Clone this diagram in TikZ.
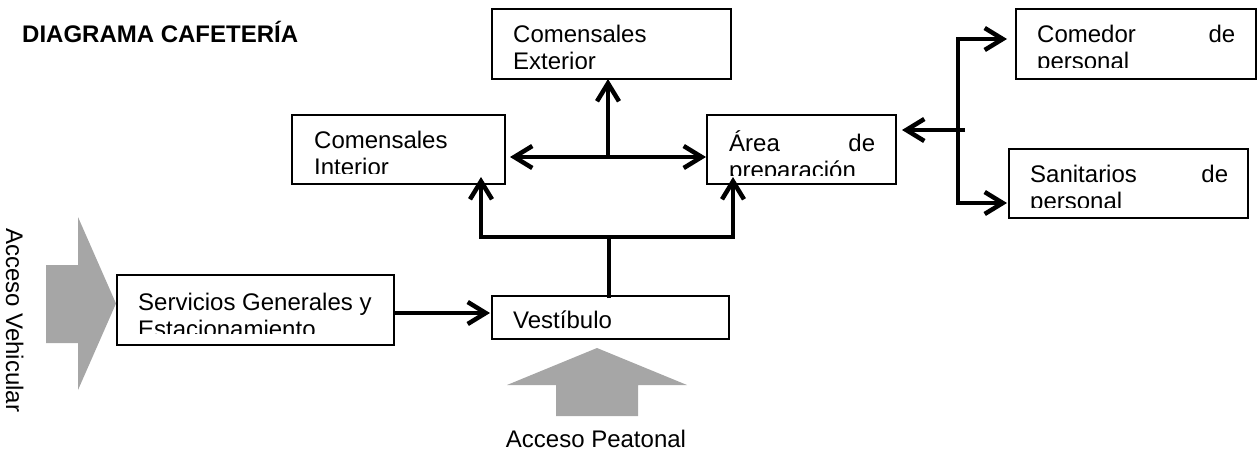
\documentclass[tikz,border=0pt]{standalone}
\usepackage{fontspec}
\setmainfont{Liberation Sans}
\usetikzlibrary{arrows.meta}
\definecolor{accgray}{RGB}{166,166,166}

\begin{document}
\begin{tikzpicture}[x=1pt,y=-1pt,
  box/.style={draw, line width=1.6pt, inner sep=0pt, outer sep=0pt, rectangle},
  link/.style={line width=4.5pt},
  conn/.style={link, -{Straight Barb[length=18pt,width=22pt]}},
  conn2/.style={link, {Straight Barb[length=18pt,width=22pt]}-{Straight Barb[length=18pt,width=22pt]}},
  lbl/.style={inner sep=0pt, anchor=base west, font=\fontsize{24}{27.6}\selectfont}]
\useasboundingbox (0,0) rectangle (1257,453);

% title
\node[lbl, font=\fontsize{24}{27.6}\selectfont\bfseries] (title) at (22,42) {DIAGRAMA CAFETERÍA};

% boxes
\node[box, minimum width=239, minimum height=70] (ext)  at (611.5,44)   {};
\node[box, minimum width=213, minimum height=69] (int)  at (398.5,149.5) {};
\node[box, minimum width=189, minimum height=69] (area) at (801.5,149.5) {};
\node[box, minimum width=240, minimum height=70] (com)  at (1136,44)    {};
\node[box, minimum width=239, minimum height=69] (san)  at (1128.5,183.5) {};
\node[box, minimum width=277, minimum height=70] (serv) at (255.5,310)   {};
\node[box, minimum width=237, minimum height=43] (vest) at (610.5,317.5) {};

% box texts (cut off at the lower inner margin)
\begin{scope}
  \clip (ext.north west) rectangle ([yshift=11pt]ext.south east);
  \node[lbl] (ext-t) at (513,42) {\parbox[t]{220pt}{Comensales\\Exterior}};
\end{scope}
\begin{scope}
  \clip (int.north west) rectangle ([yshift=11pt]int.south east);
  \node[lbl] (int-t) at (314,148) {\parbox[t]{190pt}{Comensales\\Interior}};
\end{scope}
\begin{scope}
  \clip (area.north west) rectangle ([yshift=9pt]area.south east);
  \node[lbl] (area-t) at (729,151) {\parbox[t]{146pt}{Área\hfill de\\preparación}};
\end{scope}
\begin{scope}
  \clip (com.north west) rectangle ([yshift=12pt]com.south east);
  \node[lbl] (com-t) at (1037,42) {\parbox[t]{198pt}{Comedor\hfill de\\personal}};
\end{scope}
\begin{scope}
  \clip (san.north west) rectangle ([yshift=11pt]san.south east);
  \node[lbl] (san-t) at (1030,182) {\parbox[t]{198pt}{Sanitarios\hfill de\\personal}};
\end{scope}
\begin{scope}
  \clip (serv.north west) rectangle ([yshift=12pt]serv.south east);
  \node[lbl] (serv-t) at (138,310) {\parbox[t]{250pt}{Servicios Generales y\\Estacionamiento}};
\end{scope}
\node[lbl] (vest-t) at (513,328) {Vestíbulo};

% access arrows
\fill[accgray] (46,265) -- (78,265) -- (78,217) -- (116,303.5) -- (78,390)
  -- (78,343) -- (46,343) -- cycle;
\fill[accgray] (556,416) -- (556,385) -- (507,385) -- (597,348) -- (687,385)
  -- (638,385) -- (638,416) -- cycle;
\node[lbl, rotate=-90] (veh) at (6,228) {Acceso Vehicular};
\node[lbl, anchor=base] (peat) at (596,447) {Acceso Peatonal};

% connectors
\coordinate (hub) at (609,237);
\draw[link] ([yshift=-2pt]vest.north -| hub) -- (hub);
\draw[conn] (hub) -| ([xshift=-24pt,yshift=7pt]int.south east);
\draw[conn] (hub) -| ([xshift=26pt,yshift=7pt]area.south west);
\draw[conn2] ([xshift=5pt,yshift=-7.5pt]int.east) -- ([xshift=-1pt,yshift=-7.5pt]area.west);
\coordinate (mid) at (608,157);
\draw[conn] (mid) -- (mid |- ext.south);
\draw[conn] ([yshift=-3pt]serv.east) -- ([xshift=-2pt,yshift=4.5pt]vest.west);

\coordinate (b0) at (965,130);
\coordinate (bt) at (958,39);
\coordinate (bb) at (958,203);
\draw[conn] (b0) -- ([xshift=6pt,yshift=19.5pt]area.east);
\draw[conn2] ([xshift=-9pt]com.west |- bt) -- (bt) -- (bb) -- ([xshift=-2pt]san.west |- bb);
\end{tikzpicture}
\end{document}
